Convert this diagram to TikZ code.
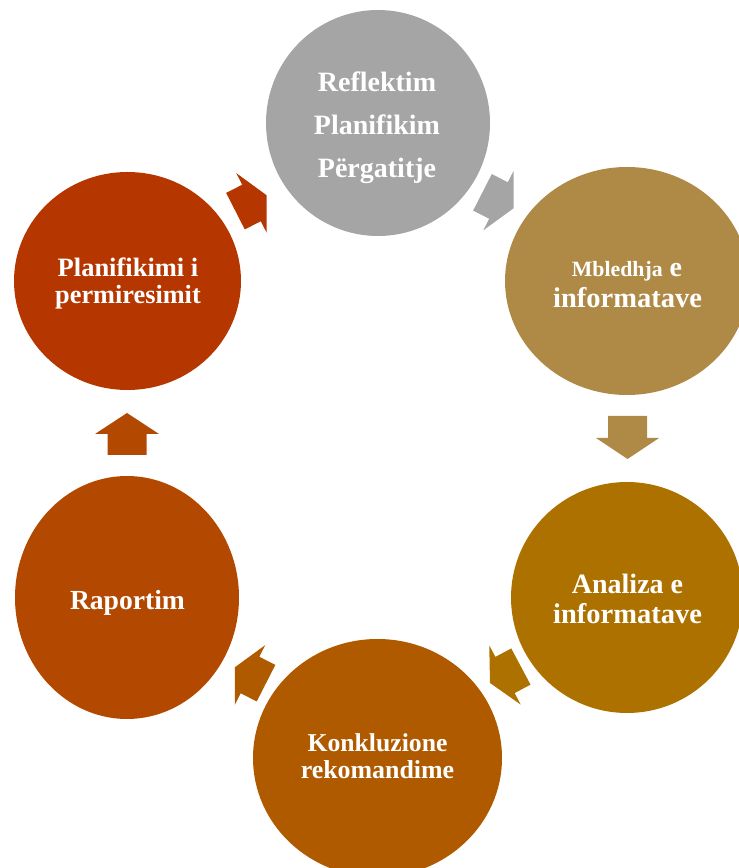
\documentclass[tikz,border=0pt]{standalone}
\usepackage{fontspec}
\setmainfont{Liberation Serif}
\usetikzlibrary{shapes.geometric}
\definecolor{cgray}{HTML}{A5A5A5}
\definecolor{cmbl}{HTML}{AF8A46}
\definecolor{cana}{HTML}{AD7100}
\definecolor{ckon}{HTML}{B05A00}
\definecolor{crap}{HTML}{B34800}
\definecolor{cpla}{HTML}{B63600}
\newcommand\blockarrow[8]{%
  \begin{scope}[shift={(#1,#2)},rotate=#3]
    \fill[#4] (-#5,-#7) -- (0,-#7) -- (0,-#8) -- (#6,0) -- (0,#8) -- (0,#7) -- (-#5,#7) -- cycle;
  \end{scope}}
\tikzset{
  stage/.style={ellipse, inner sep=0pt, draw=none},
  lbl/.style={anchor=base, inner sep=0pt, text=white, font=\bfseries},
}
\begin{document}
\begin{tikzpicture}[x=1pt,y=1pt]
\useasboundingbox (0,0) rectangle (739,868);
\clip (0,0) rectangle (739,868);
% stages
\node[stage, fill=cgray, minimum width=224pt, minimum height=226pt] (top) at (378,745) {};
\node[stage, fill=cmbl, minimum width=244pt, minimum height=228pt] (mbl) at (627,587) {};
\node[stage, fill=cana, minimum width=232pt, minimum height=231pt] (ana) at (627,270.5) {};
\node[stage, fill=ckon, minimum width=249pt, minimum height=238pt] (kon) at (377.5,110) {};
\node[stage, fill=crap, minimum width=224pt, minimum height=243pt] (rap) at (127,270.5) {};
\node[stage, fill=cpla, minimum width=227pt, minimum height=218pt] (pla) at (127.5,587) {};
% labels
\node[lbl] (t1) at (377,776) {\fontsize{28}{28}\selectfont Reflektim};
\node[lbl] (t2) at (377,733) {\fontsize{28}{28}\selectfont Planifikim};
\node[lbl] (t3) at (377,690) {\fontsize{28}{28}\selectfont Përgatitje};
\node[lbl] (m1) at (627,591) {\fontsize{21.8}{22}\selectfont Mbledhja\fontsize{28}{28}\selectfont{} e};
\node[lbl] (m2) at (627.5,560) {\fontsize{28.5}{28}\selectfont informatave};
\node[lbl] (a1) at (627.5,274) {\fontsize{28}{28}\selectfont Analiza e};
\node[lbl] (a2) at (627.5,244) {\fontsize{28.5}{28}\selectfont informatave};
\node[lbl] (k1) at (377.5,116) {\fontsize{25.7}{26}\selectfont Konkluzione};
\node[lbl] (k2) at (377.5,89) {\fontsize{25.9}{26}\selectfont rekomandime};
\node[lbl] (r1) at (127.5,258) {\fontsize{27.6}{28}\selectfont Raportim};
\node[lbl] (p1) at (128,591) {\fontsize{26.5}{27}\selectfont Planifikimi i};
\node[lbl] (p2) at (128,564) {\fontsize{26.3}{27}\selectfont permiresimit};
% arrows
\blockarrow{251.5}{665}{27}{cpla}{18}{17}{20.5}{33.5}
\blockarrow{498.5}{667.5}{-27}{cgray}{18}{17}{20.5}{33.5}
\blockarrow{627.5}{430}{-90}{cmbl}{22}{21}{19.5}{31.5}
\blockarrow{505}{193}{208}{cana}{18}{17}{20.5}{33.5}
\blockarrow{250}{193}{153}{ckon}{18}{17}{20.5}{33.5}
\blockarrow{127}{434}{90}{crap}{21}{21}{19.5}{32}
\end{tikzpicture}
\end{document}
